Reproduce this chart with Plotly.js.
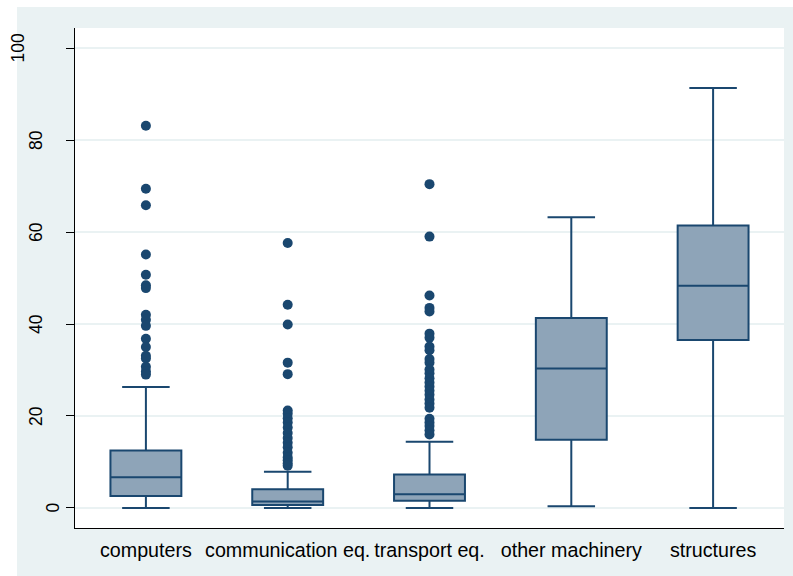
<!DOCTYPE html>
<html>
<head>
<meta charset="utf-8">
<script src="https://cdn.plot.ly/plotly-3.0.1.min.js"></script>
<style>html,body{margin:0;padding:0;background:#fff;}#chart{width:793px;height:576px;}</style>
</head>
<body>
<div id="chart"></div>
<script>
// Categories
const categories = ['computers', 'communication eq.', 'transport eq.', 'other machinery', 'structures'];
// Box statistics
const lowerWhisker = [0, 0, 0, 0.4, 0];
const q1Values = [2.6, 0.65, 1.6, 14.85, 36.5];
const medianValues = [6.7, 1.4, 3.0, 30.3, 48.3];
const q3Values = [12.5, 4.06, 7.3, 41.3, 61.4];
const upperWhisker = [26.3, 7.9, 14.4, 63.2, 91.3];
// Outside values
const outComputers = [83.1, 69.4, 65.8, 55.1, 50.7, 48.4, 47.8, 42.0, 40.9, 39.6, 36.8, 35.0, 33.1, 32.5, 30.7, 29.7, 29.0];
const outCommunication = [57.6, 44.2, 39.9, 31.6, 29.1, 21.2, 20.5, 19.5, 18.6, 17.5, 16.3, 15.2, 14.2, 13.2, 12.0, 11.0, 10.4, 9.7, 9.2];
const outTransport = [70.4, 59.0, 46.2, 43.5, 42.7, 37.9, 37.0, 35.1, 34.3, 32.4, 31.6, 30.1, 29.3, 28.2, 27.3, 26.4, 25.5, 24.6, 23.6, 22.7, 21.8, 19.4, 18.6, 17.8, 16.9, 16.0];
const outOther = [];
const outStructures = [];
// Y ticks
const yTickVals = [0, 20, 40, 60, 80, 100];
const yTickText = ['0', '20', '40', '60', '80', '100'];
// horizontal offsets (px from the y axis) of the rotated tick labels, as drawn in the original
const yLabelShift = [-22.5, -39, -39, -39, -39, -56.5];

const navy = '#1a476f';
const outLists = [outComputers, outCommunication, outTransport, outOther, outStructures];
const outX = [], outY = [];
outLists.forEach((arr, i) => arr.forEach(v => { outX.push(categories[i]); outY.push(v); }));

const boxTrace = {
  type: 'box',
  x: categories,
  q1: q1Values,
  median: medianValues,
  q3: q3Values,
  lowerfence: lowerWhisker,
  upperfence: upperWhisker,
  boxpoints: false,
  width: 0.5,
  whiskerwidth: 0.67,
  fillcolor: '#8ea4b8',
  line: {color: navy, width: 2},
  hoverinfo: 'skip',
  showlegend: false
};
const outTrace = {
  type: 'scatter',
  mode: 'markers',
  x: outX,
  y: outY,
  marker: {color: navy, size: 10},
  hoverinfo: 'skip',
  showlegend: false
};

const yLabelAnnotations = yTickVals.map((v, i) => ({
  xref: 'paper', yref: 'y', x: 0, y: v,
  text: yTickText[i],
  textangle: -90,
  showarrow: false,
  xanchor: 'center', yanchor: 'middle',
  xshift: yLabelShift[i],
  font: {size: 17.5, color: '#000', family: 'Liberation Sans, Arial, sans-serif'}
}));

const layout = {
  width: 793,
  height: 576,
  margin: {l: 75, r: 9, t: 28, b: 48},
  paper_bgcolor: '#ffffff',
  plot_bgcolor: '#ffffff',
  font: {family: 'Liberation Sans, Arial, sans-serif', color: '#000'},
  shapes: [
    {type: 'rect', xref: 'paper', yref: 'paper', x0: -0.0818, x1: 1.02, y0: -0.1, y1: 1.042,
     fillcolor: '#eaf2f3', line: {width: 0}, layer: 'below'},
    {type: 'rect', xref: 'paper', yref: 'paper', x0: 0, x1: 1, y0: 0, y1: 1,
     fillcolor: '#ffffff', line: {width: 0}, layer: 'below'}
  ],
  annotations: yLabelAnnotations,
  xaxis: {
    type: 'category',
    categoryorder: 'array',
    categoryarray: categories,
    range: [-0.5, 4.5],
    showgrid: false,
    zeroline: false,
    showline: true,
    linecolor: '#000',
    linewidth: 1.3,
    ticks: '',
    ticklabelstandoff: 4,
    tickfont: {size: 19.7, color: '#000'},
    fixedrange: true
  },
  yaxis: {
    range: [-4.35, 104.35],
    tickvals: yTickVals,
    showticklabels: false,
    ticks: 'outside',
    ticklen: 8,
    tickwidth: 1,
    tickcolor: '#000',
    showline: true,
    linecolor: '#000',
    linewidth: 1.3,
    showgrid: true,
    gridcolor: '#eaf2f3',
    gridwidth: 1.2,
    zeroline: false,
    fixedrange: true
  }
};

Plotly.newPlot('chart', [boxTrace, outTrace], layout, {displayModeBar: false, staticPlot: true});
</script>
</body>
</html>
